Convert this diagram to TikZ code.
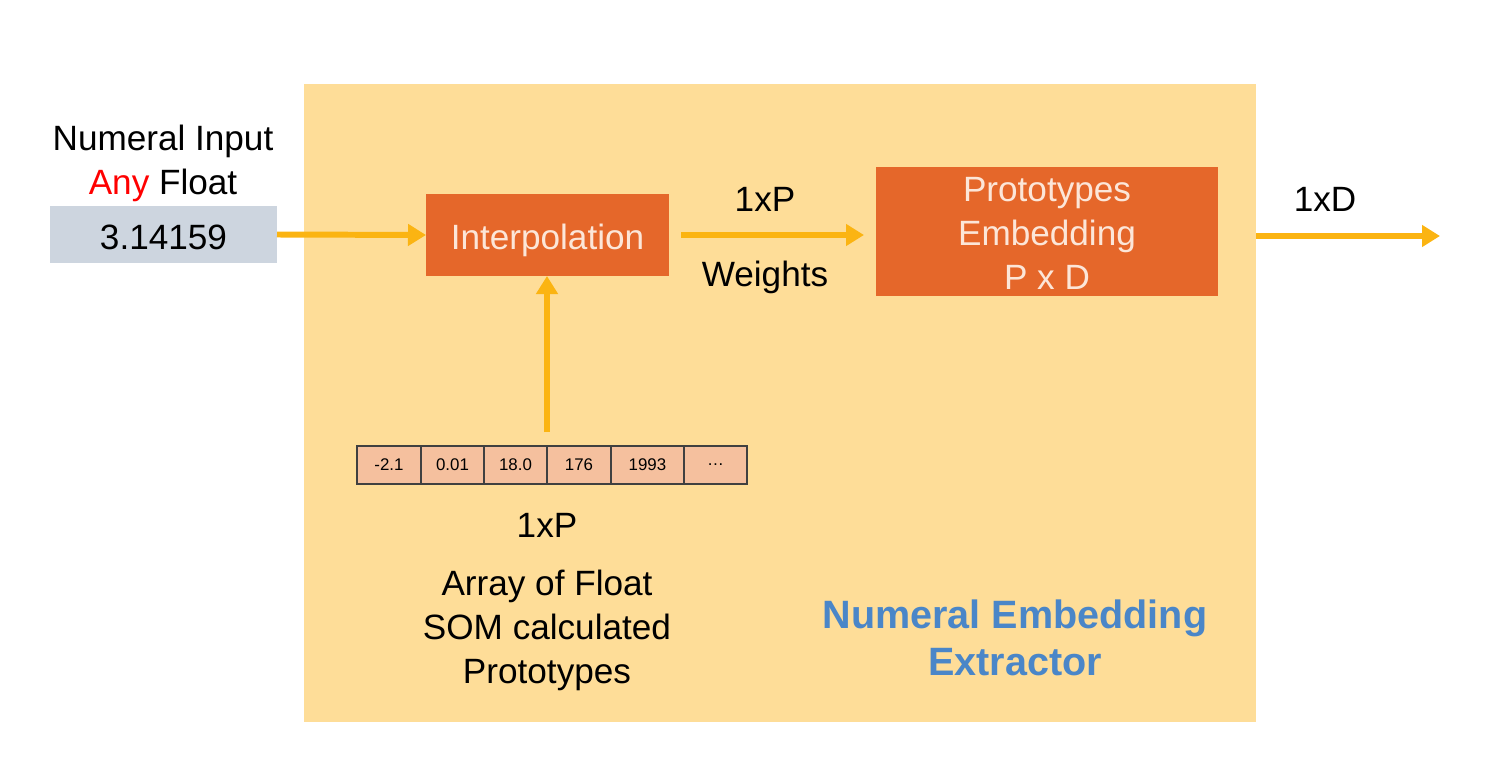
\documentclass[tikz,border=0pt]{standalone}
\usepackage{fontspec}
\setmainfont{Liberation Sans}
\usetikzlibrary{arrows.meta}

\definecolor{panel}{HTML}{FEDD98}
\definecolor{block}{HTML}{E5672A}
\definecolor{blocktext}{HTML}{FCE6D8}
\definecolor{inbox}{HTML}{CDD5DF}
\definecolor{cell}{HTML}{F5C09E}
\definecolor{flow}{HTML}{FBB412}
\definecolor{title}{HTML}{4A86C8}

\begin{document}
\begin{tikzpicture}[x=0.2mm,y=-0.2mm,
		every node/.style={font=\fontsize{20}{25}\selectfont,inner sep=0pt,outer sep=0pt},
		block/.style={fill=block,text=blocktext,align=center},
		flowarrow/.style={draw=flow,line width=3.4pt,-{Triangle[length=3.6mm,width=4.2mm]}},
		cellbox/.style={draw=black!75,line width=0.8pt,fill=cell,minimum height=7.6mm,
			font=\fontsize{9.6}{11}\selectfont}]
		\useasboundingbox (0,0) rectangle (1508,782);
		% panel
		\fill[panel] (304,84) rectangle (1256,722);
		% input
		\node[align=center] (inlabel) at (163,163) {Numeral Input\\\textcolor{red}{Any} Float};
		\node[fill=inbox,minimum width=45.4mm,minimum height=11.4mm,text height=17.2pt,text depth=0pt]
			(input) at (163.5,234.5) {3.14159};
		% blocks
		\node[block,minimum width=48.6mm,minimum height=16.4mm,text height=16pt,text depth=0pt]
			(interp) at (547.5,235) {Interpolation};
		\node[block,minimum width=68.4mm,minimum height=25.8mm] (proto) at (1047,231.5)
			{\rule{0pt}{0.82em}Prototypes\\Embedding\\P x D};
		% array of prototypes
		\foreach \l/\r/\t [count=\i] in {357/421/-2.1,421/484/0.01,484/547/18.0,547/611/176,611/684/1993,684/747/\dots}
			\node[cellbox,minimum width={(\r-\l)*0.2mm}] (c\i) at ({(\l+\r)/2},465) {\t};
		\node (dims) at (547,525) {1xP};
		\node[align=center] (arrlabel) at (547,630) {Array of Float\\SOM calculated\\Prototypes};
		% arrows
		\draw[flowarrow] (input.east) -- (interp.west);
		\draw[flowarrow,shorten <=2.8mm] (c3.north east) -- (c3.north east |- interp.south);
		\draw[flowarrow,shorten <=2.4mm,shorten >=2.4mm] (interp.east) -- (interp.east -| proto.west);
		\coordinate (outend) at (1440,236);
		\draw[flowarrow,shorten <=7.6mm] (proto.east |- outend) -- (outend);
		\node (wdims) at (765,199) {1xP};
		\node (wlabel) at (765,277) {Weights};
		\node (odims) at (1325,199) {1xD};
		% title
		\node[align=center,text=title,font=\fontsize{22.5}{27}\bfseries] (title) at (1015,638)
			{Numeral Embedding\\Extractor};
	\end{tikzpicture}
\end{document}
